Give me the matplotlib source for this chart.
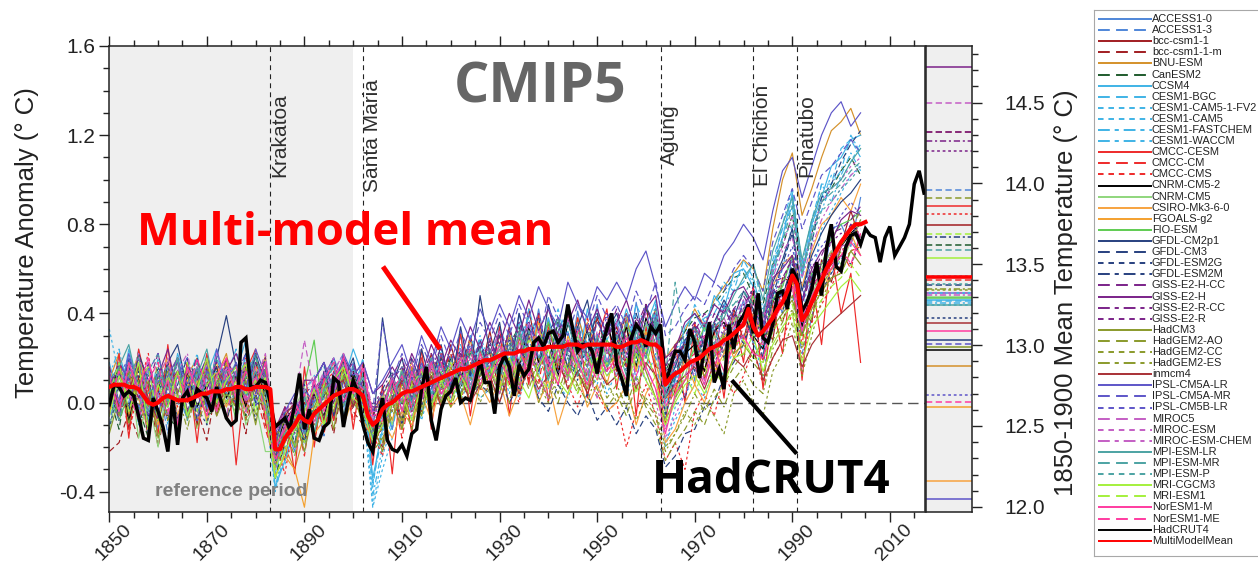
import matplotlib
matplotlib.use("Agg")
import matplotlib.pyplot as plt
from matplotlib.ticker import MultipleLocator, FormatStrFormatter
from matplotlib.transforms import ScaledTranslation

plt.rcParams['font.family'] = ['Liberation Sans', 'DejaVu Sans']
plt.rcParams['axes.unicode_minus'] = False
plt.rcParams['lines.scale_dashes'] = False

# ---------------------------------------------------------------------------
# Data
# ---------------------------------------------------------------------------
# CMIP5 historical runs, sampled every second year, anomalies in 0.01 deg C
# relative to 1850-1900.
model_years = list(range(1850, 2005, 2))

access1_0 = [14, -2, 20, -8, 9, -12, 17, 3, -7, 13, -3, 19, 10,
             2, 22, -1, 12, -30, -10, -22, 4, -14, 10, 16, -6, 18,
             -3, -24, 4, -12, 14, -2, 20, 2, 22, 9, 30, 10, 28,
             10, 34, 14, 40, 18, 42, 18, 36, 15, 41, 20, 44, 17,
             36, 16, 45, 22, 40, -4, 10, 28, 10, 36, 20, 44, 32,
             46, 26, 20, 52, 40, 66, 30, 58, 48, 78, 80, 70, 92]
access1_3 = [-10, 12, 0, 22, -8, 10, -14, 15, 6, -9, 16, 7, 20,
             12, -4, 18, 4, -34, -12, -2, -22, 3, -15, 12, -2, 15,
             8, -18, 0, -12, 10, -8, 12, 2, 16, 2, 22, 8, 28,
             12, 16, 32, 10, 28, 16, 38, 12, 24, 34, 16, 28, 12,
             18, 34, 10, 30, 20, -8, 14, 2, 18, 8, 26, 20, 28,
             30, 40, 18, 32, 50, 50, 22, 38, 60, 58, 64, 74, 66]
bcc_csm1_1 = [-2, 18, -12, 12, -16, 6, -8, 14, 9, -10, 15, -6, 10,
              17, -1, 12, -4, -12, -26, 0, -18, 3, 8, -8, 15, -2,
              14, -12, -20, 8, -8, 16, 2, 22, 6, 26, 10, 30, 12,
              32, 12, 34, 16, 42, 18, 36, 14, 40, 22, 16, 38, 24,
              14, 38, 20, 44, 16, 14, 4, 22, 30, 14, 36, 22, 42,
              28, 46, 36, 28, 56, 54, 42, 36, 64, 54, 70, 86, 72]
bcc_csm1_1_m = [-22, -18, -4, -16, 8, -20, 3, -9, 13, -3, -17, 8, -8,
                4, -14, 14, -10, -16, -2, -20, 0, -16, 4, -14, 10, -4,
                -10, -16, -12, 6, -12, 11, -4, 16, 0, 6, 20, 4, 12,
                22, 6, 24, 32, 10, 24, 36, 16, 10, 28, 20, 40, 22,
                34, 16, 22, 44, 30, 10, 18, 26, 34, 18, 32, 38, 26,
                40, 26, 40, 46, 36, 52, 54, 54, 52, 62, 66, 72, 78]
bnu_esm = [10, 22, -6, 16, -12, 6, 17, -8, 12, 20, 0, 12, 22,
           0, 16, 4, 21, -28, -20, -30, -14, 2, 10, -5, 19, 10,
           5, -6, 3, 12, -12, 16, -2, 9, 22, 4, 14, 28, 8,
           14, 30, 16, 5, 30, 18, 34, 20, 14, 38, 26, 18, 34,
           30, 22, 36, 30, 42, 20, 26, 32, 42, 34, 46, 52, 58,
           64, 60, 50, 78, 100, 112, 84, 96, 110, 122, 126, 132, 120]
canesm2 = [3, -12, 14, -2, -16, 10, -6, -12, 6, 15, -8, 0, 18,
           5, -6, 18, 1, -34, -18, -8, -18, -4, 3, 10, -10, 13,
           -6, -20, -8, 4, -8, 8, 16, 0, 8, 22, 6, 22, 12,
           24, 10, 26, 34, 14, 26, 18, 36, 20, 12, 32, 24, 36,
           20, 34, 28, 42, 34, 14, 24, 32, 38, 40, 44, 50, 56,
           58, 48, 44, 62, 70, 84, 58, 76, 90, 96, 104, 110, 102]
ccsm4 = [18, 0, 24, 6, -8, 14, -2, 22, 8, -8, 12, 24, 2,
         14, 28, 6, 18, -38, -26, -12, -2, 4, 6, 20, 9, 24,
         12, -34, -12, 6, 10, -2, 16, 4, 22, 8, 24, 12, 28,
         14, 32, 18, 36, 22, 12, 38, 24, 32, 16, 42, 24, 32,
         26, 42, 28, 34, 46, 4, 16, 34, 40, 32, 48, 42, 58,
         60, 52, 30, 60, 74, 94, 56, 80, 92, 106, 110, 118, 120]
cesm1_bgc = [2, 20, 10, -4, 18, -10, 8, 18, -6, 10, 20, 1, 12,
             24, 4, 15, 11, -32, -14, -20, 0, 8, -12, 14, 22, 4,
             20, -38, -8, -4, 16, 1, 10, 18, 4, 18, 8, 30, 16,
             24, 14, 34, 18, 42, 26, 12, 32, 42, 26, 20, 36, 28,
             38, 24, 44, 34, 30, 0, 24, 28, 44, 36, 44, 54, 50,
             64, 56, 38, 64, 78, 88, 60, 82, 98, 98, 114, 118, 110]
cesm1_cam5_1_fv2 = [33, 12, 2, 24, -2, 16, -10, 12, 20, -4, 13, 2, 18,
                    8, 20, -2, 14, -34, -28, -8, -18, 0, 6, -4, 14, 8,
                    4, -46, -24, -10, 2, 10, -4, 12, 0, 14, 4, 16, 8,
                    10, 18, 4, 20, 12, 28, 6, 22, 12, 30, 16, 8, 24,
                    18, 10, 28, 20, 12, -20, -2, 4, 10, 20, 12, 26, 36,
                    42, 50, 24, 46, 60, 80, 34, 72, 90, 102, 100, 108, 116]
cesm1_cam5 = [4, -8, 12, 20, -14, 8, 16, 0, -6, 12, 0, 16, 4,
              18, -4, 12, 0, -40, -22, -22, -10, -10, 2, 6, 12, -2,
              -2, -47, -30, -16, -4, 6, -8, 8, -2, 10, 0, 12, 2,
              6, 0, 12, 2, 16, 4, 20, 8, 2, 16, 10, 20, 4,
              14, 2, 18, 10, 22, -18, -8, 0, 8, 2, 18, 12, 24,
              30, 28, 12, 38, 52, 66, 12, 54, 78, 86, 94, 102, 106]
cesm1_fastchem = [12, 24, 2, 17, -4, 20, 8, -8, 16, 6, 22, 0, 10,
                  18, 6, 20, 10, -28, -12, -6, 4, 12, 16, 0, 20, 14,
                  10, -36, -14, 2, 12, 4, 18, 6, 24, 10, 26, 14, 30,
                  18, 34, 22, 28, 38, 20, 30, 42, 24, 34, 26, 40, 30,
                  36, 24, 40, 28, 44, -4, 12, 24, 32, 38, 40, 48, 54,
                  60, 54, 34, 60, 80, 96, 62, 82, 86, 98, 104, 120, 112]
cesm1_waccm = [-6, 8, 18, -10, 14, 2, 18, -6, 8, 22, -4, 10, 0,
               14, 2, 22, -4, -38, -20, -16, -8, 0, 12, 18, 0, 10,
               16, -42, -20, -8, 6, 14, 4, 20, 8, 12, 22, 10, 22,
               12, 26, 12, 30, 18, 34, 20, 14, 36, 22, 28, 16, 36,
               28, 38, 20, 32, 40, 0, 8, 20, 30, 20, 36, 44, 50,
               54, 62, 42, 56, 74, 90, 56, 78, 98, 90, 102, 112, 104]
cmcc_cesm = [-6, 22, -16, 24, 6, -14, 26, -10, 18, -18, 22, -4, 20,
             -28, 14, 24, -8, -30, -2, -32, 16, -20, 12, -8, 22, -12,
             18, -28, 8, -32, 16, -14, 24, -12, 22, -2, 32, -6, 24,
             6, 34, -6, 30, 8, 40, 0, 32, 10, 38, 2, 28, 42,
             6, 36, -6, 34, 14, -10, 26, 0, 36, 10, 32, 2, 40,
             18, 52, 6, 44, 22, 60, 10, 56, 26, 68, 40, 58, 18]
cmcc_cm = [16, -8, 10, 20, -6, 6, 18, -12, 14, 4, -6, 16, 6,
           -2, 20, 4, -12, -26, -12, -4, -24, 6, -14, 8, 16, -8,
           6, -20, -10, 6, -16, 8, 20, -4, 12, 22, 2, 24, 8,
           18, 26, 8, 32, 16, 8, 34, 18, 26, 12, 38, 22, 14,
           32, 16, 34, 22, 12, -4, 6, 18, 22, 28, 14, 34, 22,
           34, 40, 18, 40, 48, 52, 26, 54, 60, 68, 68, 60, 76]
cmcc_cms = [0, 14, -14, 6, 22, -8, 12, -2, 18, -8, 9, 14, -6,
            12, -8, 18, 4, -18, -32, -6, 2, -18, 8, 14, -8, 8,
            -10, -14, -24, 2, 8, -12, 12, 0, 6, 16, 0, 18, 6,
            6, 20, 10, 0, 24, 10, 2, 18, 8, -2, 14, 4, -4,
            0, -20, -4, 8, -6, -26, -18, -30, -4, 4, -6, 12, 4,
            12, 24, 8, 20, 28, 40, 20, 36, 44, 52, 62, 68, 70]
cnrm_cm5_2 = [4, 16, -8, 10, -10, 12, 2, -8, 14, -2, 8, 16, 2,
              12, -2, 14, 4, -20, -8, -2, -12, 4, -6, 10, 0, 14,
              0, -14, -4, 10, 0, 14, 2, 18, 6, 20, 10, 24, 14,
              24, 12, 30, 16, 34, 18, 30, 12, 36, 22, 32, 16, 36,
              20, 34, 16, 38, 26, 4, 12, 22, 26, 14, 32, 36, 26,
              40, 30, 24, 46, 48, 60, 34, 52, 58, 66, 70, 76, 80]
cnrm_cm5 = [-12, 8, 18, -16, 2, -20, 12, -12, 8, 16, -10, 10, -2,
            14, -10, 0, -22, -22, -4, -2, 6, -14, 8, 18, -6, 8,
            0, -14, 4, -10, 16, 2, -6, 18, 2, 8, 18, 4, 22,
            10, 18, 30, 10, 20, 34, 14, 28, 10, 30, 20, 12, 24,
            18, 30, 14, 36, 26, -4, 8, 12, 26, 18, 30, 22, 36,
            42, 30, 36, 46, 54, 66, 40, 48, 60, 68, 62, 72, 82]
csiro_mk3_6_0 = [8, -6, 14, 2, -12, 12, 20, -6, 10, -8, 6, 18, -2,
                 10, -4, 16, 0, -24, -10, -20, -6, -2, 0, 10, -10, 2,
                 -8, -16, -8, -16, -4, -10, 4, -8, 8, -2, 4, -10, 8,
                 0, 10, -6, 6, 16, 0, 10, -10, 4, 14, -2, 8, -4,
                 0, 8, -10, 4, 12, -18, -12, 0, 8, 0, 14, 22, 30,
                 36, 46, 38, 52, 62, 66, 52, 68, 80, 84, 92, 86, 98]
fgoals_g2 = [16, -2, 8, 22, 2, -10, 12, 20, 0, 10, -8, 6, 18,
             2, 18, 8, -4, -33, -24, -30, -47, -14, -8, 2, 16, 4,
             12, -4, 2, -8, 8, 18, 4, 12, -2, 16, 22, 6, 16,
             24, 8, 32, 12, 22, 36, 16, 8, 30, 18, 36, 22, 8,
             26, 40, 14, 32, 18, 2, 4, 20, 8, 26, 10, 32, 20,
             28, 40, 30, 42, 42, 54, 40, 48, 48, 60, 60, 76, 66]
fio_esm = [9, -8, 4, 16, -12, 12, 0, 20, -6, 8, 14, -2, 10,
           -8, 12, 20, 6, -18, -4, -20, 8, 28, -10, 6, 18, 8,
           4, -14, -2, 12, 0, 14, 8, -2, 14, 4, 16, 24, 8,
           14, 24, 10, 30, 16, 26, 36, 18, 12, 32, 22, 14, 28,
           22, 36, 24, 16, 34, 12, 2, 16, 24, 34, 22, 32, 38,
           38, 48, 28, 46, 52, 66, 46, 58, 62, 74, 80, 82, 86]
gfdl_cm2p1 = [0, 14, -4, 22, 10, -8, 18, 26, 6, 14, 0, 20, 39,
              16, 2, 22, 8, -18, -4, -2, -18, 10, 18, -6, 10, 20,
              0, -14, 38, 8, 20, 0, 24, 8, 26, 6, 34, 12, 48,
              22, 36, 10, 40, 24, 14, 44, 28, 16, 34, 46, 22, 32,
              40, 26, 20, 44, 30, 8, 16, 28, 34, 26, 36, 46, 38,
              50, 42, 34, 54, 64, 78, 50, 66, 76, 84, 90, 94, 100]
gfdl_cm3 = [10, -6, 16, 4, -10, 14, -2, 8, 20, -8, 6, 16, 0,
            12, 22, 2, 14, -26, -4, -18, -2, 6, 12, 20, 2, 16,
            6, -20, -6, 2, 12, -4, 14, 2, 10, 0, 14, 4, 8,
            4, 12, 0, 8, 16, 2, -4, 8, 0, -6, 4, -8, -2,
            -10, -2, -14, -6, -12, -29, -24, -14, -12, -2, 0, 12, 18,
            26, 38, 20, 48, 62, 76, 44, 72, 92, 98, 108, 116, 122]
gfdl_esm2g = [-12, 8, -2, 14, -14, 4, 18, -8, 12, -2, -10, 14, 4,
              0, 12, -8, 18, -24, -18, 2, -14, -8, 4, 12, -6, 6,
              16, -12, -2, 8, -10, 12, -2, 20, 4, 12, 24, 4, 14,
              28, 10, 28, 14, 30, 38, 16, 30, 20, 10, 34, 24, 16,
              30, 14, 36, 22, 34, -6, 12, 2, 18, 30, 18, 26, 36,
              26, 42, 28, 48, 40, 60, 30, 46, 50, 58, 66, 62, 72]
gfdl_esm2m = [12, -2, 20, 8, -6, 16, 6, -14, 8, 20, 2, 12, -8,
              6, 16, 0, 20, -16, -6, -8, 8, -6, 14, 2, 18, -2,
              10, -6, 6, 14, -4, 20, 8, 0, 20, 10, 20, 12, 26,
              14, 30, 18, 6, 32, 20, 32, 38, 22, 12, 26, 40, 22,
              32, 20, 40, 26, 36, 2, 14, 24, 14, 30, 34, 20, 30,
              40, 28, 38, 50, 48, 62, 36, 56, 58, 66, 70, 80, 70]
giss_e2_h_cc = [16, 0, 12, -8, 8, 22, 2, 14, 8, 20, -4, 10, 16,
                -2, 14, 4, 18, -22, -10, -4, -12, 4, 12, 0, 12, 18,
                6, -4, 4, 12, 20, 6, 12, 22, 12, 24, 12, 24, 16,
                28, 18, 32, 22, 36, 26, 16, 32, 40, 28, 22, 36, 30,
                42, 28, 34, 44, 32, 16, 26, 30, 36, 28, 40, 34, 42,
                48, 40, 36, 54, 56, 64, 44, 58, 66, 76, 78, 82, 88]
giss_e2_h = [6, 18, 10, 16, 0, 12, 24, 4, 16, 10, 20, 0, 14,
             22, 8, 18, 12, -12, -2, -10, 10, 10, 18, 6, 20, 12,
             18, 4, 8, 16, 8, 22, 12, 26, 16, 28, 20, 34, 24,
             36, 26, 40, 30, 46, 32, 42, 28, 36, 46, 32, 42, 30,
             36, 46, 32, 42, 48, 20, 24, 36, 40, 34, 44, 40, 50,
             52, 44, 40, 56, 60, 66, 46, 60, 68, 72, 82, 86, 84]
giss_e2_r_cc = [8, -8, 14, 2, 18, -4, 10, 20, 0, 8, 16, 4, 20,
                10, 0, 14, 6, -18, -6, -14, 4, 8, -8, 14, 6, 0,
                10, -2, -2, 10, 16, 2, 18, 6, 18, 8, 22, 14, 28,
                16, 32, 22, 36, 24, 14, 30, 38, 24, 18, 32, 22, 36,
                26, 40, 30, 20, 38, 14, 18, 28, 32, 40, 32, 42, 34,
                44, 50, 34, 50, 54, 58, 38, 54, 62, 64, 72, 80, 74]
giss_e2_r = [-2, 12, 2, 20, 12, -8, 8, 18, -4, 16, 6, 18, 8,
             16, 2, 12, 20, -14, -4, 2, -12, 4, 10, 18, 0, 10,
             4, -2, 6, -4, 14, 20, 8, 16, 24, 10, 16, 28, 14,
             26, 16, 34, 18, 28, 40, 20, 32, 24, 36, 18, 28, 40,
             32, 22, 38, 28, 42, 16, 24, 24, 36, 26, 36, 44, 38,
             42, 52, 32, 48, 54, 66, 44, 62, 62, 72, 76, 72, 82]
hadcm3 = [-14, 2, 14, -6, 10, -16, 2, 14, -8, 6, 18, -6, 4,
          -2, 10, -10, 14, -20, -12, -6, -22, -2, 8, -12, 12, 0,
          -6, -10, -22, 0, -12, 8, -6, 12, 0, 14, 2, 16, 6,
          14, 4, 20, 8, 24, 12, 2, 20, 28, 14, 6, 24, 16,
          22, 8, 26, 14, 2, -8, 2, 10, 18, 12, 20, 30, 22,
          26, 20, 28, 34, 40, 46, 30, 42, 50, 56, 58, 68, 62]
hadgem2_ao = [0, 16, -10, 10, -2, 18, -8, 6, 14, -12, 4, 12, -6,
              6, -8, 10, 0, -30, -12, -24, -4, -14, 0, 8, -10, 4,
              -10, -22, -16, -6, 2, -12, 6, -4, 8, -2, 10, 0, 14,
              4, 14, 0, 18, 6, 20, 10, 0, 14, 4, 16, 6, -2,
              4, -6, 8, -2, -10, -26, -18, -12, -4, -10, 2, 8, 16,
              22, 18, 12, 28, 36, 48, 30, 46, 54, 66, 70, 78, 86]
hadgem2_cc = [10, -6, 18, 0, -10, 8, 16, -8, 4, 14, -4, 8, 18,
              -6, 12, 2, 16, -22, -14, -12, -16, -6, 4, 12, -2, 12,
              0, -14, -12, -4, 8, -2, 12, 0, 6, 16, 4, 12, 0,
              10, 0, 16, 4, 18, 8, 0, 12, 20, 6, 14, 2, 10,
              0, 6, -8, 2, -4, -20, -14, -4, -10, 0, -6, -14, 4,
              10, 0, -6, 14, 22, 36, 12, 30, 46, 56, 58, 68, 72]
hadgem2_es = [2, 16, -4, 10, -10, 0, 14, 4, -12, 8, 18, 0, 12,
              2, 16, -6, 6, -16, -8, -20, 2, -10, 8, -4, 14, 2,
              8, -10, -18, 6, -8, 10, -2, 14, 2, 6, 18, 0, 12,
              16, 4, 18, 8, 22, 0, 14, 4, 18, 8, 0, 14, 2,
              8, -2, 12, 0, -6, -22, -14, -6, 4, -4, 6, -2, 10,
              16, 8, 4, 24, 32, 42, 24, 38, 52, 60, 68, 72, 82]
inmcm4 = [12, -2, 6, 16, 2, -8, 8, 14, -4, 4, 12, -2, 6,
          14, 0, 8, -4, -10, -6, 0, -10, 6, -8, 6, 10, -2,
          8, -4, -10, 2, 10, -4, 2, 12, -2, 6, 12, 0, 8,
          12, 0, 14, 4, 16, 6, 12, 20, 6, 14, 4, 16, 8,
          12, 20, 6, 18, 12, 2, 8, 12, 16, 6, 18, 10, 20,
          16, 24, 10, 20, 28, 30, 16, 26, 32, 36, 40, 44, 48]
ipsl_cm5a_lr = [14, 0, 22, 6, 16, -6, 12, 20, 4, 16, -2, 24, 8,
                18, 6, 24, 12, -14, -4, 4, -14, 10, 18, 4, 22, 12,
                18, 4, 10, 18, 26, 12, 30, 18, 34, 24, 38, 28, 42,
                32, 44, 34, 48, 38, 52, 42, 34, 54, 44, 38, 52, 46,
                54, 46, 60, 68, 52, 34, 44, 52, 46, 58, 54, 66, 72,
                80, 74, 64, 86, 104, 110, 92, 106, 120, 130, 135, 124, 130]
ipsl_cm5a_mr = [4, 18, 10, -2, 14, 22, 2, 12, 20, -4, 14, 6, 16,
                12, 22, 4, 18, -18, -6, -12, 6, 0, 12, 20, 6, 16,
                6, -4, 36, 10, 22, 10, 26, 16, 30, 18, 32, 22, 36,
                28, 40, 30, 44, 34, 26, 48, 38, 30, 44, 34, 48, 38,
                44, 34, 50, 40, 54, 30, 34, 42, 48, 44, 54, 50, 60,
                66, 60, 50, 72, 84, 96, 78, 90, 102, 106, 112, 118, 112]
ipsl_cm5b_lr = [0, 12, 20, 4, -6, 12, 2, 18, 8, -8, 16, 2, 12,
                6, 18, -2, 12, -26, -10, -2, -10, 2, 10, 16, 0, 8,
                2, -8, 4, 10, 16, 2, 18, 6, 22, 8, 14, 26, 12,
                24, 12, 30, 14, 34, 20, 28, 38, 22, 34, 20, 30, 38,
                30, 40, 24, 36, 30, 10, 20, 28, 32, 24, 36, 30, 42,
                42, 38, 34, 52, 60, 70, 46, 64, 70, 76, 84, 90, 84]
miroc5 = [8, -4, 16, 4, -10, 12, 20, 0, 14, 2, 18, 6, -6,
          14, 0, 10, 22, -14, -4, 0, 28, 4, 14, 4, 18, 8,
          18, -4, -4, 12, 0, 18, 4, 20, 6, 12, 24, 8, 18,
          22, 32, 12, 26, 36, 16, 30, 20, 38, 24, 12, 32, 22,
          36, 22, 28, 40, 24, 4, 18, 22, 30, 36, 26, 38, 28,
          36, 46, 26, 44, 48, 58, 36, 54, 58, 60, 70, 72, 78]
miroc_esm = [14, 0, 8, 22, -4, 8, 18, -8, 8, 16, 0, 22, 12,
             2, 18, 8, -4, -30, -16, -12, -4, 6, 12, 20, 0, 14,
             10, -14, -10, 4, 12, -6, 14, 0, 16, 4, 18, 4, 20,
             10, 24, 12, 30, 16, 4, 20, 12, 28, 16, 8, 22, 12,
             18, 6, 24, 10, 0, -16, -6, 4, 14, 20, 12, 26, 32,
             42, 50, 34, 60, 70, 84, 60, 76, 90, 96, 100, 106, 110]
miroc_esm_chem = [0, 14, 6, -6, 18, 4, -6, 14, 22, 2, 12, -4, 16,
                  6, -4, 16, 10, -22, -10, -4, 6, 12, -4, 14, 22, 4,
                  14, -8, -4, 10, -4, 12, 0, 16, 2, 18, 8, 20, 10,
                  16, 4, 20, 8, 24, 12, 2, 20, 10, 24, 14, 2, 20,
                  12, 22, 8, 16, 6, -12, 2, 12, 20, 10, 24, 32, 38,
                  46, 40, 38, 56, 68, 74, 56, 70, 82, 90, 96, 102, 106]
mpi_esm_lr = [10, 16, 26, 6, -4, 14, 6, 20, -6, 12, 24, 2, 14,
              16, 2, 14, -2, -18, -18, -8, 2, -14, 6, 10, 16, 2,
              12, -16, -6, 0, 14, 0, 16, 2, 18, 4, 20, 6, 24,
              14, 26, 14, 32, 18, 30, 10, 24, 36, 20, 10, 30, 16,
              26, 12, 32, 20, 36, 2, 12, 22, 30, 20, 34, 38, 48,
              56, 62, 46, 68, 80, 92, 64, 82, 94, 96, 100, 108, 114]
mpi_esm_mr = [2, -8, 12, 20, 4, 10, 16, -10, 8, 18, 0, 12, 4,
              14, 2, 20, 6, -22, -14, -4, -14, 0, 8, 16, -2, 10,
              8, -12, -4, 8, 10, 0, 12, 20, 6, 20, 8, 24, 12,
              20, 10, 26, 14, 32, 20, 26, 38, 20, 12, 32, 22, 14,
              30, 18, 34, 22, 38, 12, 54, 24, 30, 36, 26, 42, 44,
              50, 44, 40, 58, 72, 88, 60, 76, 90, 94, 98, 104, 108]
mpi_esm_p = [2, 16, 8, -4, 14, 22, 0, 12, -8, 16, 8, 20, 8,
             0, 12, 22, 4, -28, -16, -14, 2, -8, 4, 12, 2, 16,
             4, -14, -10, 6, 12, -4, 16, 4, 12, 18, 4, 22, 14,
             24, 12, 24, 34, 18, 26, 12, 32, 22, 36, 16, 26, 18,
             22, 36, 18, 30, 42, 6, 18, 22, 34, 26, 36, 40, 44,
             48, 56, 38, 62, 74, 80, 58, 74, 86, 90, 96, 100, 106]
mri_cgcm3 = [-6, 12, 2, 18, -12, 8, -2, 14, -6, 6, 20, 0, 10,
             16, 4, 10, -4, -34, -22, -12, -4, 6, -10, 10, 16, 2,
             -2, -18, -10, 0, 4, -8, 8, -2, 10, 0, 12, 4, 14,
             16, 6, 20, 10, 2, 16, 24, 10, 4, 18, 8, 20, 12,
             16, 6, 22, 10, 2, -10, 0, 8, 12, 4, 14, 8, 20,
             22, 30, 14, 26, 34, 40, 18, 34, 40, 46, 52, 56, 50]
mri_esm1 = [4, 18, -4, 10, 16, -8, 12, 2, 18, -4, 8, 14, 0,
            10, 18, -4, 12, -30, -18, -6, -18, -4, 8, -2, 14, 8,
            0, -14, -8, 6, -4, 8, 14, 0, 8, 18, 2, 18, 8,
            12, 22, 6, 18, 28, 12, 6, 24, 14, 4, 22, 10, 18,
            10, 20, 4, 24, 10, -8, 2, 12, 4, 16, 10, 20, 26,
            28, 20, 18, 32, 38, 44, 26, 40, 46, 52, 56, 62, 56]
noresm1_m = [12, -4, 18, 6, 20, 0, 10, -10, 16, 6, -6, 12, 20,
             2, 14, 6, 18, -20, -12, 0, -8, 10, -4, 10, 20, 4,
             16, -6, -4, 10, -4, 14, 2, 18, 4, 10, 20, 4, 22,
             10, 20, 10, 24, 12, 28, 18, 8, 28, 18, 8, 24, 14,
             20, 10, 28, 16, 6, -14, 4, 10, 18, 8, 24, 14, 26,
             30, 22, 20, 36, 44, 52, 32, 48, 56, 60, 66, 72, 66]
noresm1_me = [0, 14, 4, -8, 10, 18, -4, 12, 2, 20, 6, -4, 14,
              16, 2, 12, -4, -26, -16, -6, 4, -10, 10, 18, 0, 10,
              6, -12, -8, 6, 12, -2, 16, 2, 18, 4, 10, 24, 8,
              16, 26, 14, 6, 22, 32, 14, 24, 12, 32, 20, 10, 26,
              18, 30, 12, 24, 32, -2, 8, 16, 22, 30, 16, 28, 34,
              36, 28, 26, 40, 48, 56, 36, 52, 58, 66, 70, 62, 76]

model_names = ["ACCESS1-0", "ACCESS1-3", "bcc-csm1-1", "bcc-csm1-1-m", "BNU-ESM",
               "CanESM2", "CCSM4", "CESM1-BGC", "CESM1-CAM5-1-FV2", "CESM1-CAM5",
               "CESM1-FASTCHEM", "CESM1-WACCM", "CMCC-CESM", "CMCC-CM", "CMCC-CMS",
               "CNRM-CM5-2", "CNRM-CM5", "CSIRO-Mk3-6-0", "FGOALS-g2", "FIO-ESM",
               "GFDL-CM2p1", "GFDL-CM3", "GFDL-ESM2G", "GFDL-ESM2M", "GISS-E2-H-CC",
               "GISS-E2-H", "GISS-E2-R-CC", "GISS-E2-R", "HadCM3", "HadGEM2-AO",
               "HadGEM2-CC", "HadGEM2-ES", "inmcm4", "IPSL-CM5A-LR", "IPSL-CM5A-MR",
               "IPSL-CM5B-LR", "MIROC5", "MIROC-ESM", "MIROC-ESM-CHEM", "MPI-ESM-LR",
               "MPI-ESM-MR", "MPI-ESM-P", "MRI-CGCM3", "MRI-ESM1", "NorESM1-M",
               "NorESM1-ME"]
model_series = [access1_0, access1_3, bcc_csm1_1, bcc_csm1_1_m, bnu_esm,
                canesm2, ccsm4, cesm1_bgc, cesm1_cam5_1_fv2, cesm1_cam5,
                cesm1_fastchem, cesm1_waccm, cmcc_cesm, cmcc_cm, cmcc_cms,
                cnrm_cm5_2, cnrm_cm5, csiro_mk3_6_0, fgoals_g2, fio_esm,
                gfdl_cm2p1, gfdl_cm3, gfdl_esm2g, gfdl_esm2m, giss_e2_h_cc,
                giss_e2_h, giss_e2_r_cc, giss_e2_r, hadcm3, hadgem2_ao,
                hadgem2_cc, hadgem2_es, inmcm4, ipsl_cm5a_lr, ipsl_cm5a_mr,
                ipsl_cm5b_lr, miroc5, miroc_esm, miroc_esm_chem, mpi_esm_lr,
                mpi_esm_mr, mpi_esm_p, mri_cgcm3, mri_esm1, noresm1_m,
                noresm1_me]

# 1850-1900 mean absolute temperature of each model (deg C)
model_baseline = [13.32, 13.96, 13.74, 14.32, 12.87,
                  13.62, 13.28, 13.27, 13.25, 13.43,
                  13.32, 13.26, 13.86, 13.40, 13.81,
                  float('nan'), 13.30, 12.16, 12.62, 13.29,
                  13.03, 13.37, 13.17, 13.67, 14.32,
                  14.72, 14.26, 14.20, 12.99, 13.91,
                  13.34, 13.35, 13.14, 12.05, 13.01,
                  12.69, 14.50, 13.32, 13.31, 13.25,
                  13.59, 13.38, 13.54, 13.69, 13.09,
                  12.65]

# HadCRUT4 annual anomaly, 0.01 deg C relative to 1850-1900
obs_years = list(range(1850, 2018))
hadcrut4 = [-1, 8, 7, 3, 5, 3, -6, -16, -17, 2,
            -4, -11, -22, 2, -19, 2, 5, -2, 6, 4,
            2, -4, 7, 0, -7, -10, -8, 27, 29, 7,
            7, 10, 9, 0, -11, -9, -7, -12, -1, 13,
            -12, -3, -16, -17, -11, -9, 11, 9, -11, 1,
            10, 4, -10, -18, -22, -8, 2, -17, -21, -22,
            -19, -24, -14, -12, 6, 16, -8, -17, -3, 3,
            5, 11, 0, 2, 1, 9, 19, 9, 9, -5,
            16, 21, 16, 3, 17, 12, 15, 27, 29, 25,
            31, 32, 27, 30, 44, 33, 23, 26, 26, 23,
            13, 25, 33, 40, 17, 11, 3, 29, 35, 32,
            25, 34, 31, 35, 8, 16, 23, 23, 19, 33,
            27, 11, 24, 36, 9, 15, 6, 35, 24, 36,
            39, 44, 31, 49, 29, 27, 35, 49, 50, 42,
            60, 55, 41, 45, 51, 63, 48, 69, 80, 61,
            59, 70, 75, 76, 71, 78, 75, 74, 63, 74,
            79, 66, 70, 74, 80, 98, 104, 94]
hadcrut4_baseline = 12.97

# Multi-model mean anomaly, 0.01 deg C
mmm_years = list(range(1850, 2006))
multi_model_mean = [7, 8, 8, 8, 7, 7, 6, 3, 0, -1,
                    0, 2, 3, 2, 1, 1, 1, 2, 3, 4,
                    4, 5, 5, 5, 6, 6, 7, 7, 6, 6,
                    7, 7, 7, 6, -21, -21, -16, -13, -10, -6,
                    -8, -9, -5, -3, -1, 1, 3, 4, 5, 6,
                    6, 5, 3, -6, -10, -8, -3, -1, 0, 2,
                    4, 5, 5, 6, 7, 8, 9, 10, 11, 12,
                    13, 14, 15, 15, 16, 17, 18, 19, 19, 20,
                    21, 22, 22, 22, 23, 23, 24, 24, 24, 24,
                    25, 25, 25, 25, 26, 26, 26, 25, 26, 26,
                    26, 26, 26, 26, 25, 25, 26, 27, 27, 28,
                    27, 26, 26, 24, 8, 11, 13, 14, 16, 18,
                    19, 20, 22, 24, 25, 26, 28, 29, 31, 33,
                    35, 42, 34, 30, 32, 35, 38, 42, 45, 50,
                    57, 53, 37, 40, 45, 50, 55, 60, 64, 68,
                    72, 75, 78, 80, 80, 81]
mmm_baseline = 13.42

volcano_names = ["Krakatoa", "Santa Maria", "Agung", "El Chichon", "Pinatubo"]
volcano_years = [1883, 1902, 1963, 1982, 1991]
reference_period = (1850, 1900)
year_ticks = list(range(1850, 2011, 20))

# ---------------------------------------------------------------------------
# Styling
# ---------------------------------------------------------------------------
C_ACCESS, C_BCC, C_BNU, C_CAN = "#4f86d8", "#a11d21", "#d4912a", "#1f5b2d"
C_CESM, C_CMCC, C_CNRM = "#3fb3e6", "#ee2a2a", "#8fd67c"
C_CSIRO, C_FIO, C_GFDL, C_GISS = "#f7a33f", "#5fcc52", "#27407f", "#7b2289"
C_HAD, C_INM, C_IPSL, C_MIROC = "#8a9a2b", "#a83035", "#5d55c8", "#c45ec4"
C_MPI, C_MRI, C_NOR = "#4ca3a3", "#a4f03c", "#ff3ba0"

model_colors = [C_ACCESS, C_ACCESS, C_BCC, C_BCC, C_BNU,
                C_CAN, C_CESM, C_CESM, C_CESM, C_CESM,
                C_CESM, C_CESM, C_CMCC, C_CMCC, C_CMCC,
                "#000000", C_CNRM, C_CSIRO, "#f4a02e", C_FIO,
                C_GFDL, C_GFDL, C_GFDL, C_GFDL, C_GISS,
                C_GISS, C_GISS, C_GISS, C_HAD, C_HAD,
                C_HAD, C_HAD, C_INM, C_IPSL, C_IPSL,
                C_IPSL, C_MIROC, C_MIROC, C_MIROC, C_MPI,
                C_MPI, C_MPI, C_MRI, C_MRI, C_NOR,
                C_NOR]
model_styles = ["-", "--", "-", "--", "-",
                "--", "-", "--", ":", ":",
                "-.", "-.", "-", "--", ":",
                "-", "-", "-", "-", "-",
                "-", "--", ":", "-.", "--",
                "-", "-.", ":", "-", "--",
                ":", "-.", "-", "-", "--",
                ":", "--", ":", "-.", "-",
                "--", ":", "-", "--", "-",
                "--"]

PLOT_DASH = {"-": "-", "--": (0, (4.5, 2.5)), ":": (0, (2.0, 2.0)),
             "-.": (0, (4.5, 2.0, 1.5, 2.0))}
LEGEND_DASH = {"-": "-", "--": (0, (8.5, 4.5)), ":": (0, (4.0, 3.5)),
               "-.": (0, (8.5, 3.5, 3.0, 3.5))}

W, H = 1258, 573
fig = plt.figure(figsize=(W / 100, H / 100), dpi=100)


def fx(px):
    return px / W


def fy(py):
    return 1 - py / H


TOP, BOTTOM = 46.0, 511.7
ax = fig.add_axes([fx(109.3), fy(BOTTOM), fx(924.5) - fx(109.3), fy(TOP) - fy(BOTTOM)])
axp = fig.add_axes([fx(926.0), fy(BOTTOM), fx(972.0) - fx(926.0), fy(TOP) - fy(BOTTOM)])

# ---- main panel ----------------------------------------------------------
ax.set_xlim(1850, 2017.1)
ax.set_ylim(-0.49, 1.6)
ax.axvspan(*reference_period, color="#efefef", lw=0, zorder=0)
ax.axhline(0.0, color="#555555", lw=1.0, linestyle=(0, (7.5, 4.0)), zorder=1)

for series, color, style in zip(model_series, model_colors, model_styles):
    ax.plot(model_years, [v / 100 for v in series], color=color, lw=0.85,
            linestyle=PLOT_DASH[style], zorder=2)

for vy in volcano_years:
    ax.axvline(vy, color="#222222", lw=0.8, linestyle=(0, (3.5, 3.0)), zorder=3)
for name, vy in zip(volcano_names, volcano_years):
    ax.text(vy + 1.9, 1.2, name, rotation=90, ha="center", va="center",
            fontsize=15, color="#2e2e2e", zorder=6)

ax.plot(obs_years, [v / 100 for v in hadcrut4], color="black", lw=2.5,
        solid_joinstyle="miter", zorder=4)
ax.plot(mmm_years, [v / 100 for v in multi_model_mean], color="#ff0000", lw=3.0,
        zorder=5)

ax.text(1875, -0.40, "reference period", ha="center", va="center",
        fontsize=14, fontweight="bold", color="#808080", zorder=6)

bold = dict(family=["Open Sans", "DejaVu Sans"], fontweight="bold")
ax.text(1938.3, 1.41, "CMIP5", ha="center", va="center", fontsize=40,
        color="#666666", zorder=7, **bold)
ax.text(1898.3, 0.76, "Multi-model mean", ha="center", va="center",
        fontsize=32.7, color="#ff0000", zorder=7, **bold)
ax.text(1985.6, -0.35, "HadCRUT4", ha="center", va="center",
        fontsize=33, color="black", zorder=7, **bold)
ax.plot([1906.1, 1917.8], [0.61, 0.24], color="#ff0000", lw=3.6,
        solid_capstyle="butt", zorder=7)
ax.plot([1977.6, 1990.9], [0.10, -0.23], color="black", lw=3.0,
        solid_capstyle="butt", zorder=7)

ax.set_xticks(year_ticks)
ax.xaxis.set_minor_locator(MultipleLocator(5))
ax.yaxis.set_major_locator(MultipleLocator(0.4))
ax.yaxis.set_minor_locator(MultipleLocator(0.1))
ax.yaxis.set_major_formatter(FormatStrFormatter("%.1f"))
ax.tick_params(which="both", direction="out", top=True, right=False,
               width=1.0, color="#222222", labelsize=15, labelcolor="#222222")
ax.tick_params(which="major", length=7)
ax.tick_params(which="minor", length=4)
ax.tick_params(axis="x", pad=0, labelsize=14)
ax.tick_params(axis="y", pad=3)
label_shift = ScaledTranslation(14 / 100, 0, fig.dpi_scale_trans)
for lbl in ax.get_xticklabels():
    lbl.set_rotation(45)
    lbl.set_ha("right")
    lbl.set_rotation_mode("anchor")
    lbl.set_transform(lbl.get_transform() + label_shift)
for sp in ax.spines.values():
    sp.set_linewidth(1.1)
    sp.set_color("#222222")

fig.text(fx(27), fy(243), "Temperature Anomaly (\u00b0 C)", rotation=90,
         ha="center", va="center", fontsize=18.5, color="#222222")

# ---- baseline temperature panel -----------------------------------------
axp.set_facecolor("#efefef")
axp.set_xlim(0, 1)
axp.set_ylim(11.97, 14.85)
for base, color, style in zip(model_baseline, model_colors, model_styles):
    axp.plot([0, 1], [base, base], color=color, lw=1.1,
             linestyle=PLOT_DASH[style], zorder=2)
axp.plot([0, 1], [hadcrut4_baseline] * 2, color="black", lw=1.1, zorder=3)
axp.plot([0, 1], [mmm_baseline] * 2, color="#ff0000", lw=2.6, zorder=4)
axp.set_xticks([])
axp.yaxis.tick_right()
axp.yaxis.set_major_locator(MultipleLocator(0.5))
axp.yaxis.set_minor_locator(MultipleLocator(0.1))
axp.yaxis.set_major_formatter(FormatStrFormatter("%.1f"))
axp.tick_params(which="both", direction="out", width=1.0, color="#222222",
                labelsize=15, labelcolor="#222222", pad=16)
axp.tick_params(which="major", length=7)
axp.tick_params(which="minor", length=4)
for sp in axp.spines.values():
    sp.set_linewidth(1.1)
    sp.set_color("#222222")

fig.text(fx(1066), fy(293), "1850-1900 Mean Temperature (\u00b0 C)", rotation=90,
         ha="center", va="center", fontsize=18.5, color="#222222")

# ---- legend ----------------------------------------------------------------
legend_names = model_names + ["HadCRUT4", "MultiModelMean"]
legend_colors = model_colors + ["#000000", "#ff0000"]
legend_styles = model_styles + ["-", "-"]

lax = fig.add_axes([fx(1094), fy(556), fx(1270) - fx(1094), fy(10) - fy(556)])
lax.set_xlim(1094, 1270)
lax.set_ylim(556, 10)
lax.set_xticks([])
lax.set_yticks([])
for sp in lax.spines.values():
    sp.set_color("#a8a8a8")
    sp.set_linewidth(0.8)
for k, (name, color, style) in enumerate(zip(legend_names, legend_colors, legend_styles)):
    yk = 19.0 + 11.1 * k
    lax.plot([1098, 1152], [yk, yk], color=color, lw=1.4,
             linestyle=LEGEND_DASH[style], solid_capstyle="butt")
    lax.text(1152, yk, name, fontsize=7.9, ha="left", va="center", color="#222222")

fig.savefig("out.png", dpi=100)
